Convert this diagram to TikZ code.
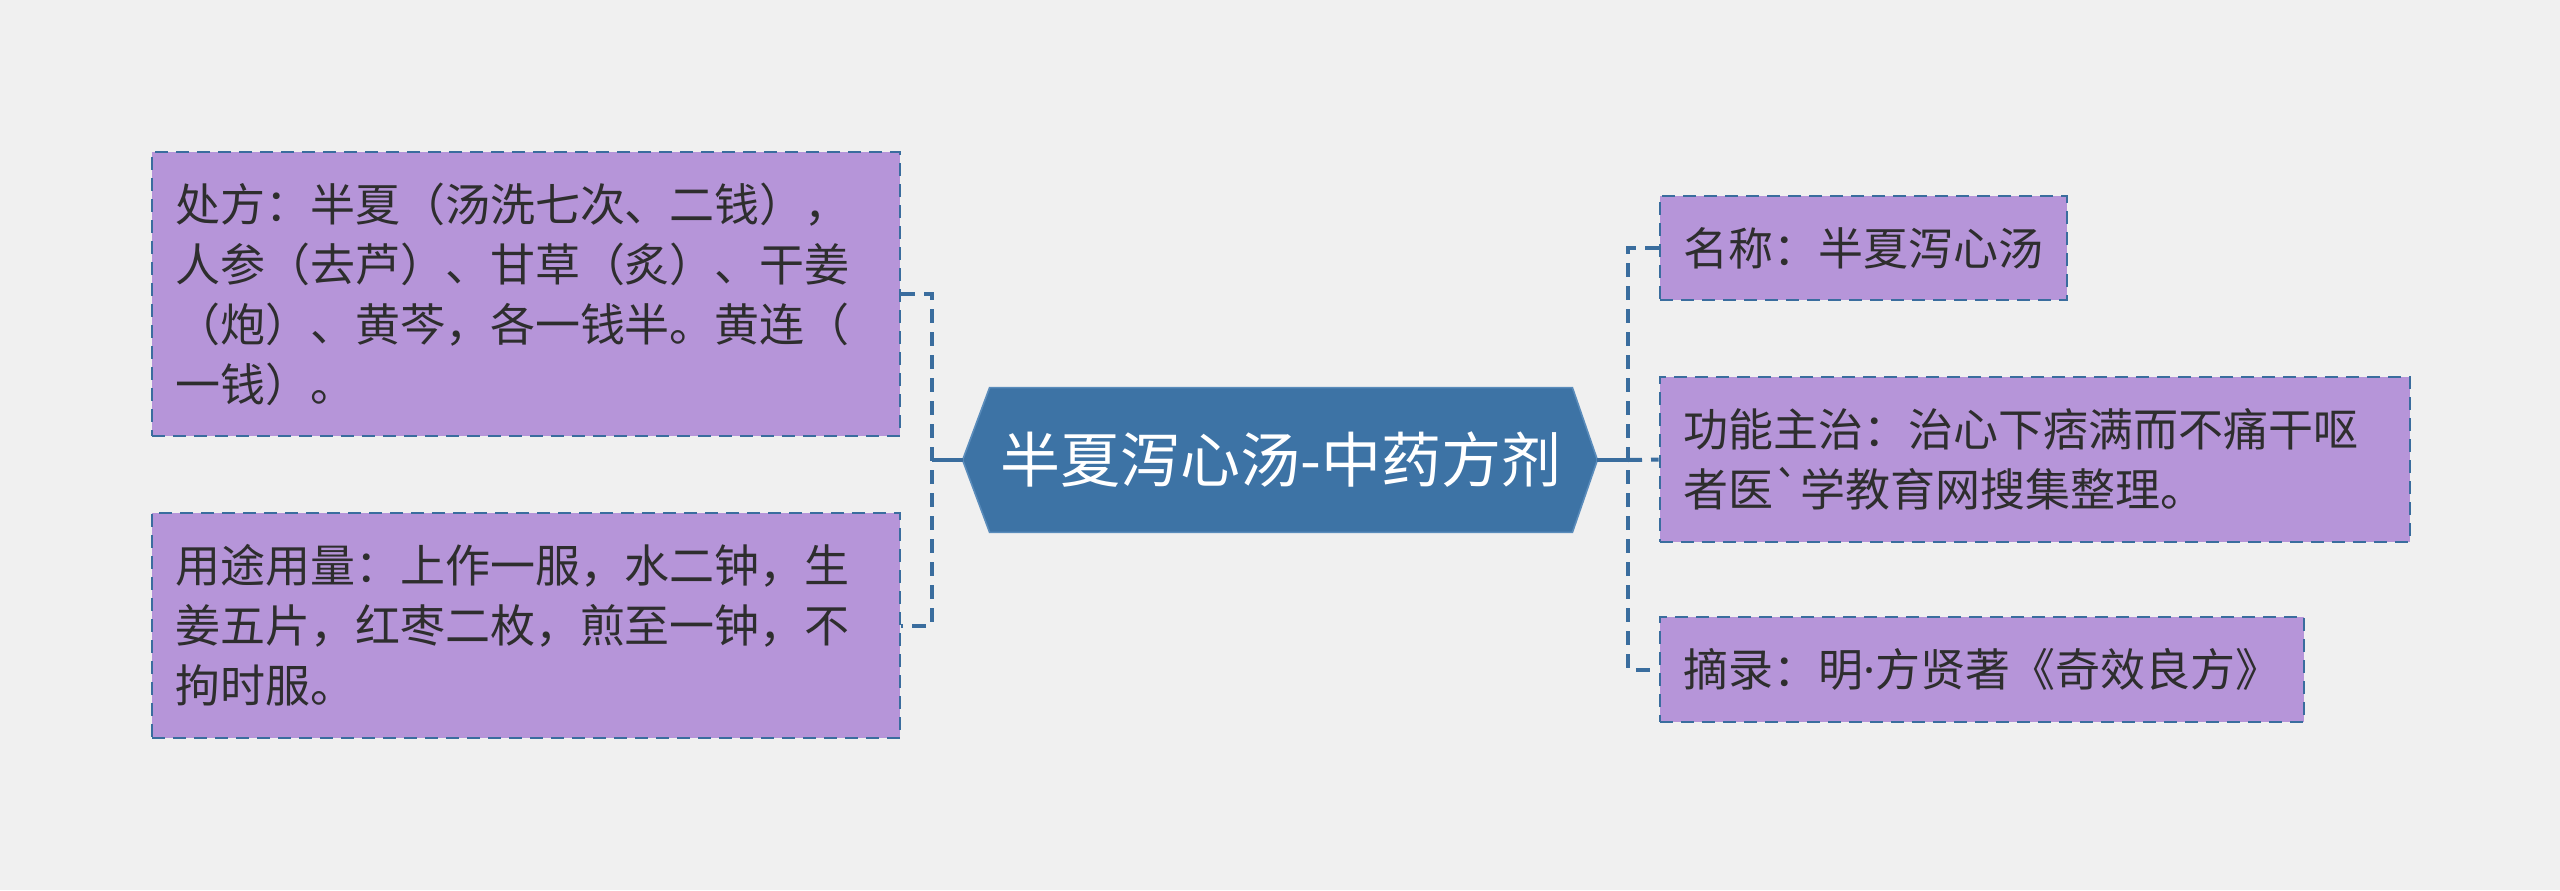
\documentclass[tikz,border=0pt]{standalone}
\usepackage{fontspec}
\setmainfont{Noto Sans CJK SC}[Ligatures=TeXOff]
\newfontfamily\latinfont{Noto Sans}
\usetikzlibrary{calc,backgrounds}
\definecolor{bg}{HTML}{F0F0F0}
\definecolor{boxfill}{HTML}{B695D9}
\definecolor{edge}{HTML}{3A6D9E}
\definecolor{hexfill}{HTML}{3D73A5}
\definecolor{hexedge}{HTML}{5A8CBB}
\definecolor{txt}{HTML}{2E2E2E}
\begin{document}
\begin{tikzpicture}[x=0.5pt,y=-0.5pt,
  leaf/.style={draw=edge, fill=boxfill, line width=1.4pt, dash pattern=on 6.5pt off 4pt,
    text=txt, font=\fontsize{22.5}{30}\selectfont, align=left,
    inner xsep=11.5pt, inner ysep=0pt, anchor=center},
  conn/.style={draw=edge, line width=2pt, dash pattern=on 7pt off 4.5pt},
  stem/.style={draw=edge, line width=2pt},
  hub/.style={text=white, font=\fontsize{30}{36}\selectfont, minimum width=291pt,
    minimum height=72pt, inner sep=0pt, anchor=center}]
\useasboundingbox (0,0) rectangle (2560,890);

\node[hub] (c) at (1281,460) {半夏泻心汤-中药方剂};
\coordinate (cl) at ($(c.west)+(-13.5pt,0)$);
\coordinate (cr) at ($(c.east)+(12.5pt,0)$);

\node[leaf, text width=351pt, minimum height=142pt] (b1) at (526,294)
  {处方：半夏（汤洗七次、二钱），\\人参（去芦）、甘草（炙）、干姜\\（炮）、黄芩，各一钱半。黄连（\\一钱）。};
\node[leaf, text width=351pt, minimum height=112.5pt] (b2) at (526,625.5)
  {用途用量：上作一服，水二钟，生\\姜五片，红枣二枚，煎至一钟，不\\拘时服。};

\node[leaf, text width=180.5pt, minimum height=52pt] (r1) at (1863.5,248)
  {名称：半夏泻心汤};
\node[leaf, text width=352pt, minimum height=82.5pt] (r2) at (2035,459.5)
  {功能主治：治心下痞满而不痛干呕\\者医`学教育网搜集整理。};
\node[leaf, text width=299pt, minimum height=52.5pt] (r3) at (1982,669.5)
  {摘录：明{\latinfont ·}方贤著《奇效良方》};

\coordinate (lj) at (932,460);
\coordinate (rj) at (1628,460);

\begin{scope}[on background layer]
  \fill[bg] (0,0) rectangle (2560,890);
  \filldraw[fill=hexfill, draw=hexedge, line width=0.8pt]
    (c.north west) -- (c.north east) -- (cr) -- (c.south east)
    -- (c.south west) -- (cl) -- cycle;
  \draw[conn] (b1.east) -| (lj) |- (b2.east);
  \draw[stem] (cl) -- (lj);
  \draw[conn] (r1.west) -| (rj) |- (r3.west);
  \draw[stem] (cr) -- (rj);
  \draw[conn] (rj) -- (r2.west);
\end{scope}
\end{tikzpicture}
\end{document}
